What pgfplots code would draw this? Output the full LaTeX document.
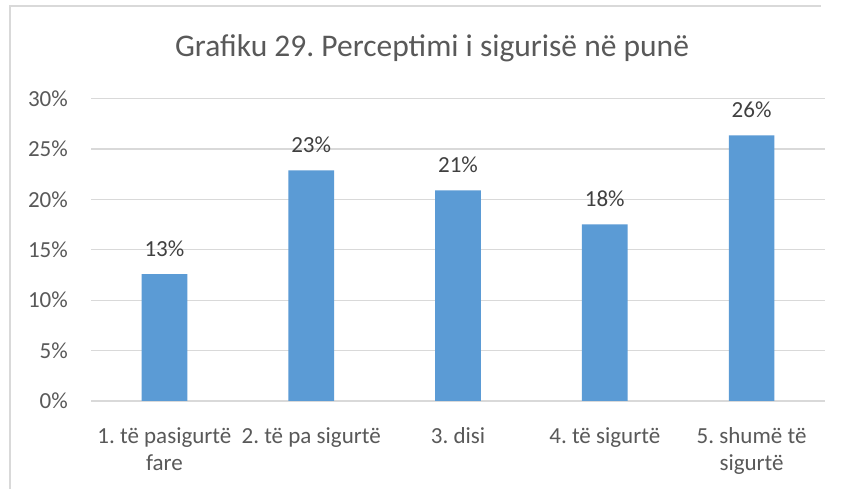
\documentclass[border=0pt]{standalone}
\usepackage{fontspec}
\setmainfont{Carlito}
\usepackage{pgfplots}
\pgfplotsset{compat=1.18}
\definecolor{barblue}{RGB}{91,155,213}
\definecolor{txtgray}{RGB}{89,89,89}
\definecolor{lblgray}{RGB}{64,64,64}
\definecolor{gridgray}{RGB}{217,217,217}
\frenchspacing
\begin{document}
\begin{tikzpicture}
\useasboundingbox (0,0) rectangle (841pt,489pt);
\fill[white] (0,0) rectangle (841pt,489pt);
\draw[gridgray, line width=1.3pt] (10pt,0) -- (10pt,483pt) -- (821pt,483pt);
\node[txtgray, font=\fontsize{31.5}{36}\selectfont, anchor=base, inner sep=0pt]
  at (432pt,432pt) {Grafiku 29. Perceptimi i sigurisë në punë};
\begin{axis}[
  at={(91pt,88pt)}, anchor=south west,
  scale only axis,
  width=734pt, height=302.5pt,
  xmin=-0.5, xmax=4.5,
  ymin=0, ymax=30,
  ybar,
  bar width=45.7pt,
  axis line style={draw=none},
  tick style={draw=none},
  ymajorgrids,
  grid style={gridgray, line width=1.3pt},
  ytick={0,5,10,15,20,25,30},
  yticklabel={\pgfmathprintnumber{\tick}\%},
  /pgf/number format/assume math mode=true,
  yticklabel style={font=\fontsize{23}{27}\selectfont, text=txtgray, anchor=east, inner sep=0pt, xshift=-23pt},
  xtick={0,1,2,3,4},
  xticklabels={{1. të pasigurtë\\fare},{2. të pa sigurtë},{3. disi},{4. të sigurtë},{5. shumë të\\sigurtë}},
  xticklabel style={font=\fontsize{23}{27}\selectfont, text=txtgray, align=center, anchor=north, inner sep=0pt, yshift=-22pt},
  nodes near coords={\pgfmathprintnumber[fixed,precision=0]{\pgfplotspointmeta}\%},
  every node near coord/.append style={font=\fontsize{23}{27}\selectfont, text=lblgray, anchor=base, inner sep=0pt, yshift=18pt},
  clip=false,
]
\addplot[fill=barblue, draw=none] coordinates {
  (0,12.57)
  (1,22.87)
  (2,20.89)
  (3,17.52)
  (4,26.34)
};
\end{axis}
\end{tikzpicture}
\end{document}
